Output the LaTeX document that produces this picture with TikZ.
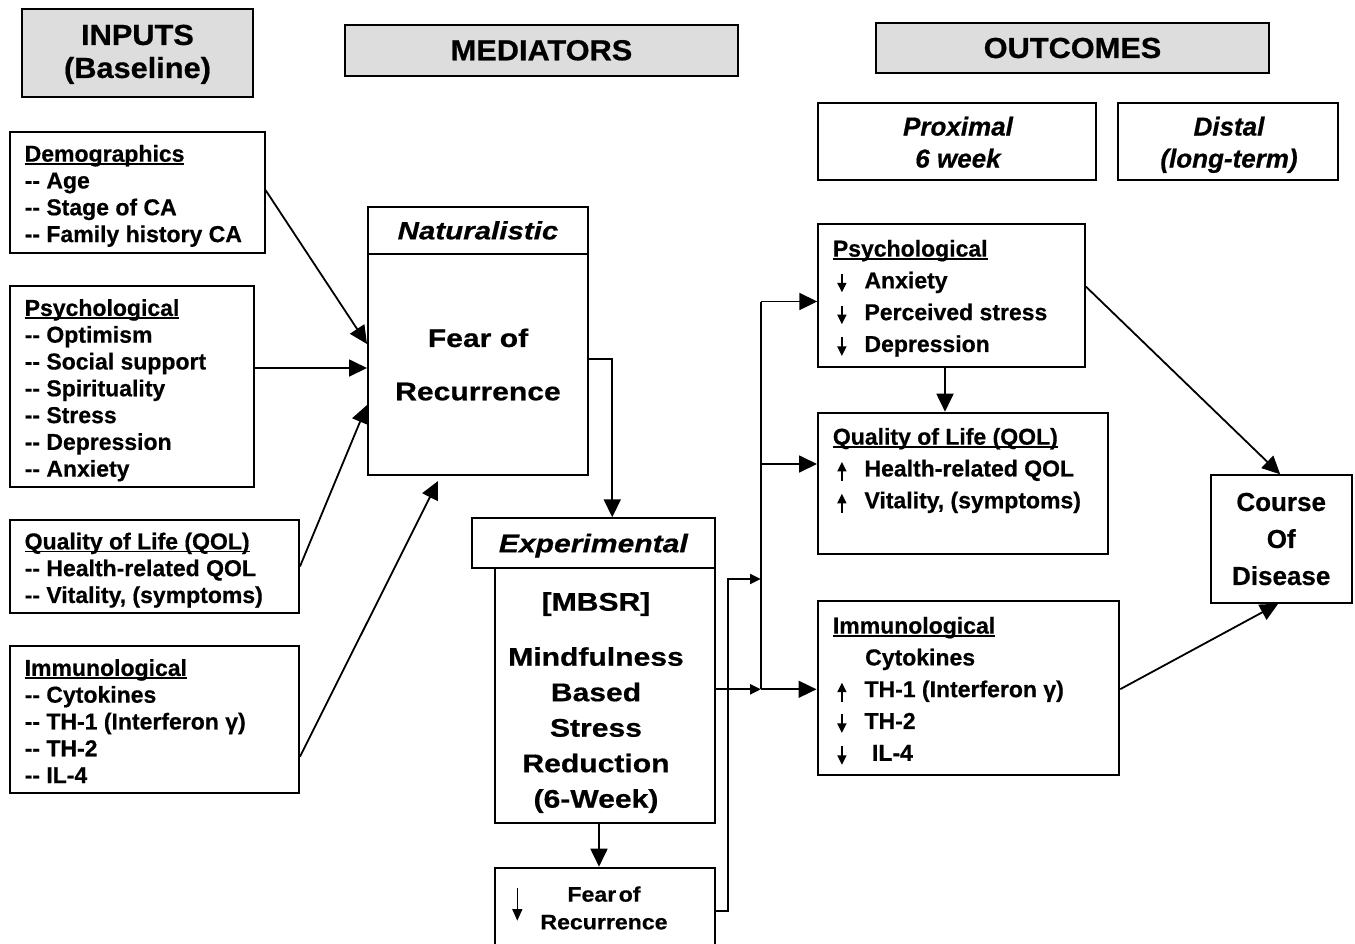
\documentclass[tikz,border=0pt]{standalone}
\usepackage{fontspec}
\setmainfont{Liberation Sans}[BoldFeatures={FakeBold=0.6},BoldItalicFeatures={FakeBold=0.6}]
\newfontfamily\midfont{Liberation Sans}[FakeStretch=1.18,BoldFeatures={FakeBold=0.6},BoldItalicFeatures={FakeBold=0.6}]
\newfontfamily\hdfont{Liberation Sans}[FakeStretch=1.06,BoldFeatures={FakeBold=0.6}]
\newfontfamily\frfont{Liberation Sans}[FakeStretch=1.1,BoldFeatures={FakeBold=0.6}]
\usetikzlibrary{arrows.meta,calc}
\definecolor{boxgray}{RGB}{221,221,221}
\newcommand\myul[1]{\setbox0=\hbox{#1}\rlap{\rule[-3pt]{\wd0}{1.6pt}}\box0}
\newcommand\ddash{-{}-}
\newcommand\mydn{\tikz[baseline=0pt,x=1pt,y=1pt]\draw[line width=1.6pt,-{Triangle[length=9.5pt,width=9pt]}] (0,14.5)--(0,-4);}
\newcommand\myup{\tikz[baseline=0pt,x=1pt,y=1pt]\draw[line width=1.6pt,-{Triangle[length=9.5pt,width=9pt]}] (0,-4.5)--(0,14.5);}
\newcommand\arlead[1]{\makebox[31.6pt][l]{\hspace{4.5pt}#1}}
\begin{document}
\begin{tikzpicture}[x=1pt,y=-1pt,
  box/.style={draw,line width=2pt,inner sep=0pt},
  gbox/.style={box,fill=boxgray},
  ltxt/.style={inner sep=0pt,anchor=north west,align=left,font=\bfseries\fontsize{23}{26.8}\selectfont},
  rtxt/.style={inner sep=0pt,anchor=north west,align=left,font=\bfseries\fontsize{23}{31.8}\selectfont},
  conn/.style={line width=1.8pt},
  bigarr/.style={conn,-{Triangle[length=18pt,width=17pt]}},
  smarr/.style={conn,-{Triangle[length=10.5pt,width=10pt]}},
]
\useasboundingbox (0,0) rectangle (1355,943);
\clip (0,0) rectangle (1355,943);

% headers
\node[gbox,minimum width=231.6,minimum height=87.4] (inp) at (137.5,53) {};
\node[inner sep=0pt,anchor=north,align=center,font=\hdfont\bfseries\fontsize{29}{33}\selectfont] (inpT) at (137.5,24.5) {INPUTS\\(Baseline)};
\node[gbox,minimum width=393.5,minimum height=50.7,font=\hdfont\bfseries\fontsize{29}{32}\selectfont] (med) at (541.5,50.3) {MEDIATORS};
\node[gbox,minimum width=393,minimum height=50,font=\hdfont\bfseries\fontsize{29}{32}\selectfont] (out) at (1072.5,48) {OUTCOMES};

\node[box,minimum width=278,minimum height=77] (prox) at (957,141.5) {};
\node[inner sep=0pt,anchor=north,align=center,font=\bfseries\itshape\fontsize{26}{32}\selectfont] (proxT) at (958,116.5) {Proximal\\6 week};
\node[box,minimum width=220,minimum height=77] (dist) at (1228,141.5) {};
\node[inner sep=0pt,anchor=north,align=center,font=\bfseries\itshape\fontsize{26}{32}\selectfont] (distT) at (1229,116.5) {Distal\\(long-term)};

% inputs
\node[box,minimum width=255,minimum height=120.5] (dem) at (137,192.25) {};
\node[ltxt] (demT) at (24.5,144.8) {\myul{Demographics}\\\ddash\ Age\\\ddash\ Stage of CA\\\ddash\ Family history CA};
\node[box,minimum width=244,minimum height=201.2] (psyL) at (131.5,386.1) {};
\node[ltxt] (psyLT) at (24.5,299) {\myul{Psychological}\\\ddash\ Optimism\\\ddash\ Social support\\\ddash\ Spirituality\\\ddash\ Stress\\\ddash\ Depression\\\ddash\ Anxiety};
\node[box,minimum width=289.5,minimum height=93.8] (qolL) at (154.25,566.4) {};
\node[ltxt] (qolLT) at (24.5,532.5) {\myul{Quality of Life (QOL)}\\\ddash\ Health-related QOL\\\ddash\ Vitality, (symptoms)};
\node[box,minimum width=289.5,minimum height=147.6] (immL) at (154.25,719.5) {};
\node[ltxt] (immLT) at (24.5,659) {\myul{Immunological}\\\ddash\ Cytokines\\\ddash\ TH-1 (Interferon γ)\\\ddash\ TH-2\\\ddash\ IL-4};

% mediators
\node[box,minimum width=220,minimum height=46.2,font=\midfont\bfseries\itshape\fontsize{25}{30}\selectfont] (natH) at (478,230.4) {Naturalistic};
\node[box,minimum width=220,minimum height=221.5] (natB) at (478,364.25) {};
\node[inner sep=0pt,anchor=north,align=center,font=\midfont\bfseries\fontsize{25.5}{53.3}\selectfont] (natT) at (478,328.3) {Fear of\\Recurrence};
\node[box,minimum width=243.3,minimum height=49.4,text depth=0pt,font=\midfont\bfseries\itshape\fontsize{25.5}{30}\selectfont] (expH) at (593.35,543) {Experimental};
\node[box,minimum width=220,minimum height=255.6] (mbsr) at (605,695.5) {};
\node[inner sep=0pt,anchor=north,align=center,font=\midfont\bfseries\fontsize{25.5}{35.5}\selectfont] (mbsrT) at (596,592) {[MBSR]\\[19.5pt]Mindfulness\\Based\\Stress\\Reduction\\(6-Week)};
\node[box,minimum width=220,minimum height=102.3] (fear) at (605,918.85) {};
\node[inner sep=0pt,anchor=north,align=center,font=\frfont\bfseries\fontsize{21}{27.7}\selectfont] (fearT) at (604,886.2) {Fear\hspace{2.5pt}of\\Recurrence};
\draw[line width=1.6pt,-{Triangle[length=11.7pt,width=10pt]}] ($(fear.north west)+(23.3,21.6)$) -- ($(fear.north west)+(23.3,54)$);

% outcomes
\node[box,minimum width=266.7,minimum height=142.7] (psyR) at (951.65,295.35) {};
\node[rtxt] (psyRT) at (832.7,239.7) {\myul{Psychological}\\\arlead{\mydn}Anxiety\\\arlead{\mydn}Perceived stress\\\arlead{\mydn}Depression};
\node[box,minimum width=289.7,minimum height=141.6] (qolR) at (962.85,483.5) {};
\node[rtxt] (qolRT) at (832.7,427.8) {\myul{Quality of Life (QOL)}\\\arlead{\myup}Health-related QOL\\\arlead{\myup}Vitality, (symptoms)};
\node[box,minimum width=301.8,minimum height=174.3] (immR) at (968.4,687.85) {};
\node[rtxt] (immRT) at (832.7,616.7) {\myul{Immunological}\\\hspace*{32.3pt}Cytokines\\\arlead{\myup}TH-1 (Interferon γ)\\\arlead{\mydn}TH-2\\\arlead{\mydn}\hspace{7.5pt}IL-4};
\node[box,minimum width=141,minimum height=127.4,align=center,font=\bfseries\fontsize{26}{37}\selectfont] (cod) at (1281.2,539) {Course\\Of\\Disease};

% junction coordinates
\coordinate (j0) at (760.7,301.5);
\coordinate (j2) at (760.7,464);
\coordinate (j3) at (760.7,579);
\coordinate (j1) at (760.7,689.3);

% connectors
\draw[bigarr] ([yshift=2.25pt]dem.east) -- ([yshift=20.25pt]natB.west);
\draw[bigarr] ([yshift=18.1pt]psyL.east) -- ([yshift=-3.75pt]natB.west);
\draw[bigarr] (qolL.east) -- ([yshift=-40.75pt]natB.west);
\draw[bigarr] ([yshift=-37pt]immL.east) -- ([xshift=-40pt,yshift=-5pt]natB.south);
\draw[bigarr] ([yshift=5.25pt]natB.east) -| ([xshift=18.9pt]expH.north);
\draw[bigarr] ([xshift=-6pt]mbsr.south) -- ([xshift=-6pt]fear.north);
\draw[smarr] ([yshift=6.2pt]mbsr.east) -- (j1);
\draw[smarr] ([yshift=8.15pt]fear.east) -- ++(12,0) |- (j3);
\draw[conn] (j0) -- (j1);
\draw[bigarr] (j0) -- (psyR.west |- j0);
\draw[bigarr] (j2) -- (qolR.west |- j2);
\draw[bigarr] (j1) -- (immR.west |- j1);
\draw[bigarr] ([xshift=-6.65pt]psyR.south) -- ([xshift=-6.65pt]psyR.south |- qolR.north);
\draw[bigarr] ([yshift=8.65pt]psyR.east) -- ([xshift=-1pt]cod.north);
\draw[bigarr] ([yshift=-1.3pt]immR.east) -- ([xshift=-3pt]cod.south);
\end{tikzpicture}
\end{document}
